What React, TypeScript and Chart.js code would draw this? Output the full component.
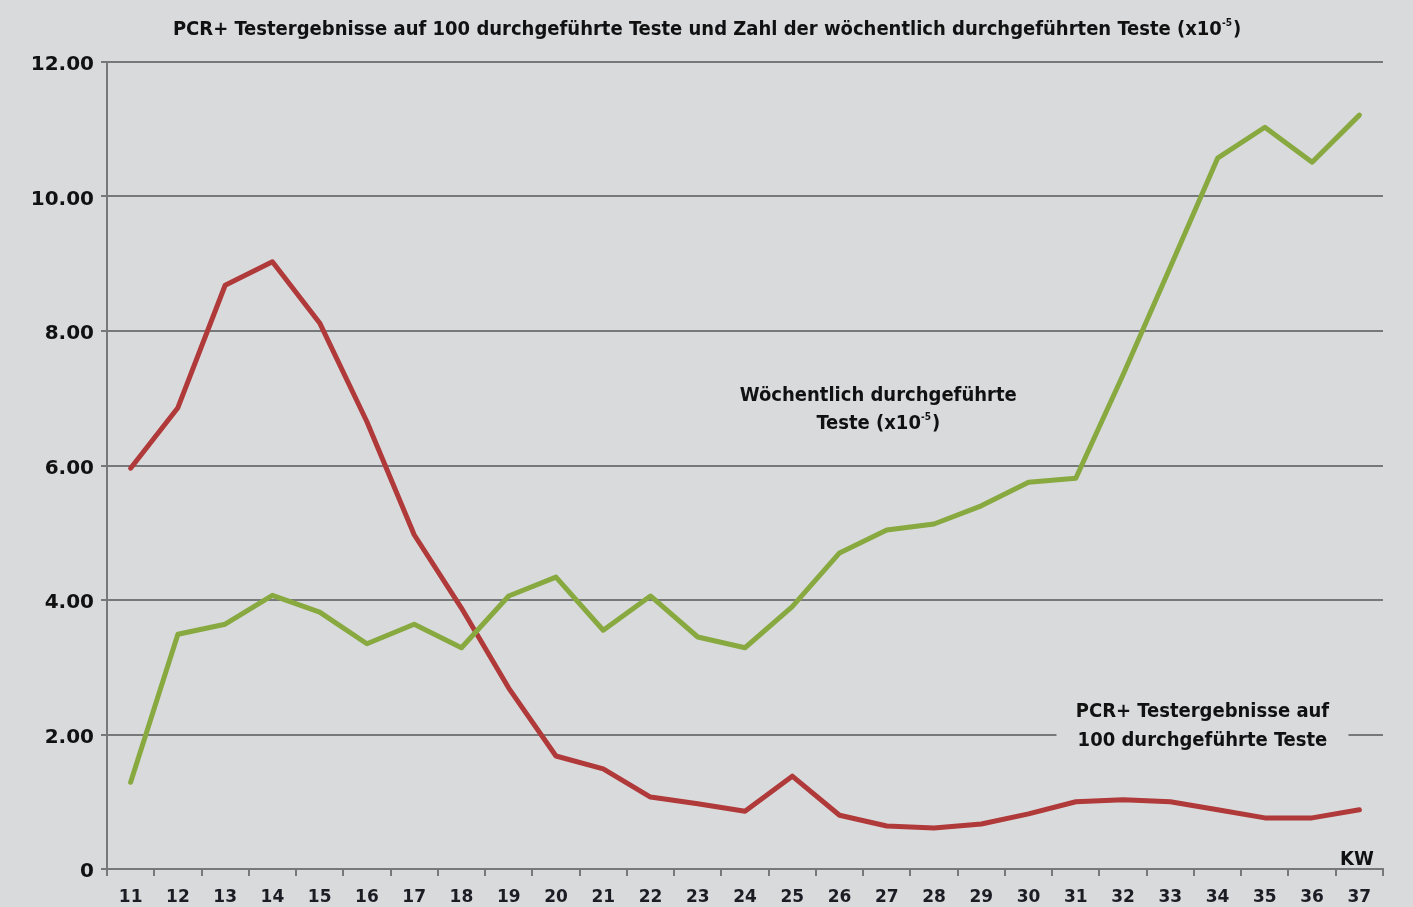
import React, { useEffect, useRef } from "react";
import { Chart, registerables } from "chart.js";

Chart.register(...registerables);

const weeks = ["11","12","13","14","15","16","17","18","19","20","21","22","23","24","25","26","27","28","29","30","31","32","33","34","35","36","37"];
const pcrPositive = [5.96,6.86,8.68,9.03,8.12,6.65,4.97,3.88,2.69,1.68,1.49,1.07,0.97,0.86,1.38,0.80,0.64,0.61,0.67,0.82,1.00,1.03,1.00,0.88,0.76,0.76,0.88];
const weeklyTests = [1.29,3.49,3.64,4.07,3.82,3.35,3.64,3.29,4.06,4.34,3.55,4.06,3.45,3.29,3.90,4.70,5.04,5.13,5.40,5.75,5.81,7.35,8.95,10.57,11.03,10.51,11.21];
const yTicks = [0, 2, 4, 6, 8, 10, 12];

const titleMain = "PCR+ Testergebnisse auf 100 durchgeführte Teste und Zahl der wöchentlich durchgeführten Teste (x10";
const noteTests = ["Wöchentlich durchgeführte", "Teste (x10"];
const notePcr = ["PCR+ Testergebnisse auf", "100 durchgeführte Teste"];
const superscript = "-5";
const axisUnit = "KW";

const BG = "#d9dadc";
const GRID = "#77787a";
const RED = "#b0393a";
const GREEN = "#87a93f";
const COND = "'DejaVu Sans Condensed', 'DejaVu Sans', sans-serif";

function textWithSup(ctx: any, main: string, cx: number, cy: number, size: number) {
  ctx.font = `bold ${size}px ${COND}`;
  const w1 = ctx.measureText(main).width;
  ctx.font = `bold ${Math.round(size * 0.5)}px ${COND}`;
  const w2 = ctx.measureText(superscript).width;
  ctx.font = `bold ${size}px ${COND}`;
  const w3 = ctx.measureText(")").width;
  const total = w1 + w2 + w3 + 1;
  let x0 = cx - total / 2;
  ctx.textAlign = "left";
  ctx.fillText(main, x0, cy);
  ctx.font = `bold ${Math.round(size * 0.5)}px ${COND}`;
  ctx.fillText(superscript, x0 + w1, cy - size * 0.32);
  ctx.font = `bold ${size}px ${COND}`;
  ctx.fillText(")", x0 + w1 + w2 + 1, cy);
  ctx.textAlign = "center";
}

const overlay = {
  id: "overlay",
  beforeDraw(chart: any) {
    const { ctx, width, height } = chart;
    ctx.save();
    ctx.fillStyle = BG;
    ctx.fillRect(0, 0, width, height);
    ctx.restore();
  },
  beforeDatasetsDraw(chart: any) {
    const { ctx, scales } = chart;
    const x = scales.x, y = scales.y;
    ctx.save();
    const px = x.getPixelForValue(22.68);
    const py = y.getPixelForValue(2);
    ctx.fillStyle = BG;
    ctx.fillRect(px - 146, py - 40, 292, 60);
    ctx.restore();
  },
  afterDraw(chart: any) {
    const { ctx, scales, chartArea } = chart;
    const x = scales.x, y = scales.y;
    ctx.save();
    ctx.fillStyle = "#111";
    ctx.textAlign = "center";
    ctx.textBaseline = "middle";
    textWithSup(ctx, titleMain, 707, 30, 20);

    ctx.font = `bold 20px ${COND}`;
    const tx = x.getPixelForValue(15.82);
    const ty = y.getPixelForValue(6.83);
    ctx.fillText(noteTests[0], tx, ty - 14);
    textWithSup(ctx, noteTests[1], tx, ty + 14, 20);

    ctx.font = `bold 20px ${COND}`;
    const px = x.getPixelForValue(22.68);
    const py = y.getPixelForValue(2);
    ctx.fillText(notePcr[0], px, py - 23);
    ctx.fillText(notePcr[1], px, py + 6);

    ctx.font = `bold 20px ${COND}`;
    ctx.fillText(axisUnit, x.getPixelForValue(25.95), chartArea.bottom - 9);
    ctx.restore();
  },
};

export default function App() {
  const ref = useRef<HTMLCanvasElement>(null);
  useEffect(() => {
    document.body.style.margin = "0";
    const chart = new Chart(ref.current!, {
      type: "line",
      data: {
        labels: weeks,
        datasets: [
          {
            label: "Wöchentlich durchgeführte Teste",
            data: weeklyTests,
            borderColor: GREEN,
            borderWidth: 5,
            pointRadius: 0,
            tension: 0,
            borderJoinStyle: "round",
            borderCapStyle: "round",
          },
          {
            label: "PCR+ Testergebnisse",
            data: pcrPositive,
            borderColor: RED,
            borderWidth: 5,
            pointRadius: 0,
            tension: 0,
            borderJoinStyle: "round",
            borderCapStyle: "round",
          },
        ],
      },
      options: {
        animation: false,
        responsive: false,
        events: [],
        layout: { padding: { top: 62, right: 30, left: 0, bottom: 0 } },
        plugins: { legend: { display: false }, tooltip: { enabled: false }, title: { display: false } },
        scales: {
          x: {
            offset: true,
            grid: { offset: true, drawOnChartArea: false, drawTicks: true, tickLength: 7, color: GRID, lineWidth: 2 },
            border: { color: GRID, width: 2 },
            ticks: { color: "#1c1c24", font: { family: "'DejaVu Sans', sans-serif", weight: "bold", size: 17 }, padding: 11, maxRotation: 0, autoSkip: false },
            afterFit: (s: any) => { s.height = 38; },
          },
          y: {
            min: 0,
            max: 12,
            afterBuildTicks: (s: any) => { s.ticks = yTicks.map((v) => ({ value: v })); },
            grid: { color: GRID, lineWidth: 2, tickLength: 6 },
            border: { color: GRID, width: 2 },
            ticks: {
              color: "#111",
              font: { family: "'DejaVu Sans', sans-serif", weight: "bold", size: 20 },
              padding: 7,
              labelOffset: 3,
              callback: (v: any) => (Number(v) === 0 ? "0" : Number(v).toFixed(2)),
            },
            afterFit: (s: any) => { s.width = 107; },
          },
        },
      },
      plugins: [overlay],
    });
    return () => chart.destroy();
  }, []);
  return (
    <div style={{ width: 1413, height: 907 }}>
      <canvas ref={ref} width={1413} height={907} style={{ display: "block" }} />
    </div>
  );
}
